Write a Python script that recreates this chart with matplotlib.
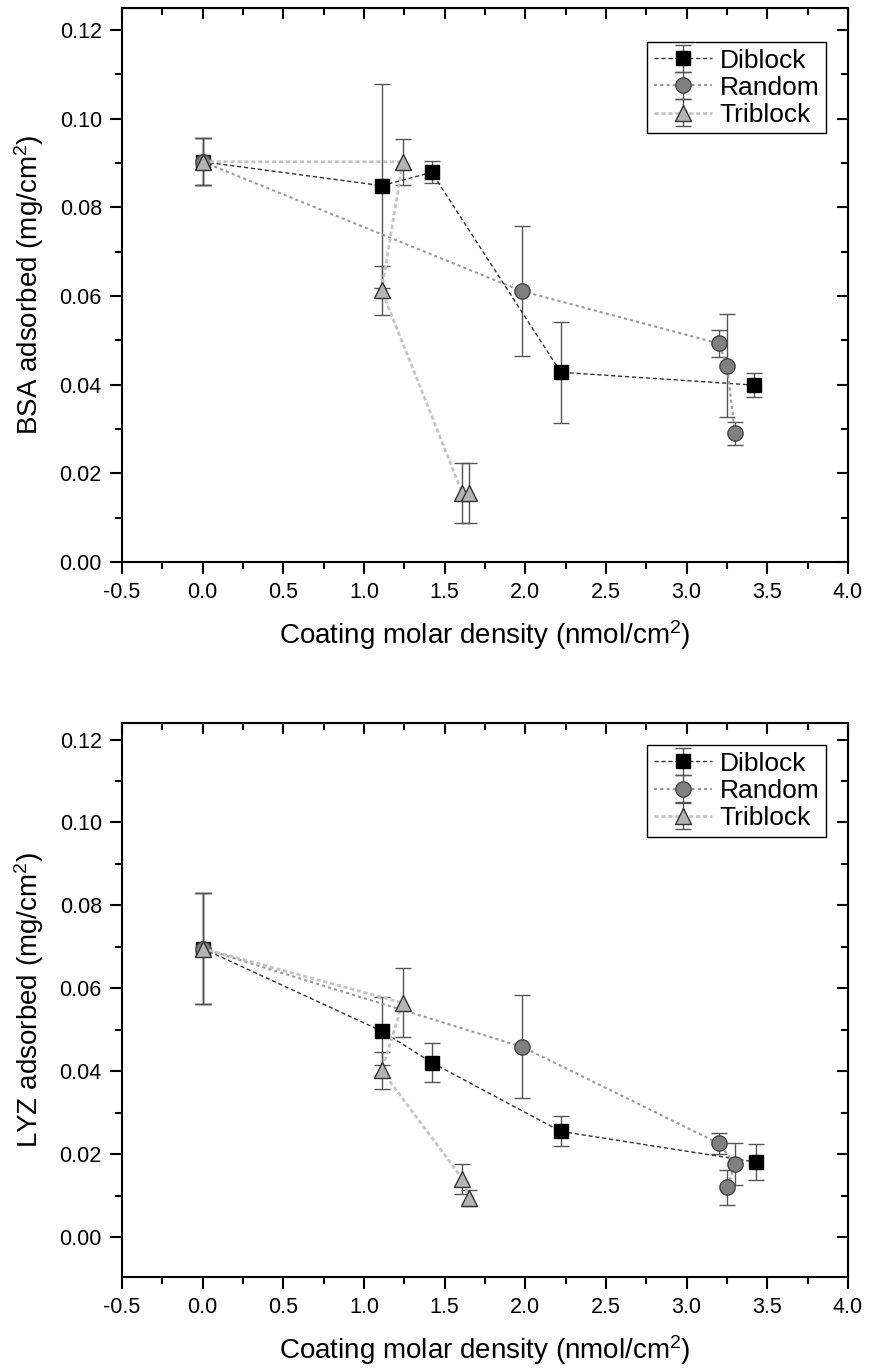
import numpy as np
import matplotlib.pyplot as plt
from matplotlib.ticker import MultipleLocator

plt.rcParams['font.family'] = ['Liberation Sans', 'DejaVu Sans']
plt.rcParams['mathtext.default'] = 'regular'

# BSA (top)
bsa_di_x = [0.0, 1.11, 1.42, 2.22, 3.42]
bsa_di_y = [0.0903, 0.0849, 0.0879, 0.0428, 0.0399]
bsa_di_e = [0.0053, 0.0230, 0.0025, 0.0114, 0.0027]

bsa_ra_x = [0.0, 1.98, 3.20, 3.25, 3.30]
bsa_ra_y = [0.0903, 0.0611, 0.0493, 0.0443, 0.0290]
bsa_ra_e = [0.0053, 0.0147, 0.0030, 0.0116, 0.0025]

bsa_tri_x = [0.0, 1.24, 1.11, 1.61, 1.65]
bsa_tri_y = [0.0903, 0.0903, 0.0613, 0.0155, 0.0155]
bsa_tri_e = [0.0053, 0.0052, 0.0055, 0.0068, 0.0068]

# LYZ (bottom)
lyz_di_x = [0.0, 1.11, 1.42, 2.22, 3.43]
lyz_di_y = [0.0696, 0.0497, 0.0421, 0.0255, 0.0181]
lyz_di_e = [0.0134, 0.0082, 0.0048, 0.0036, 0.0043]

lyz_ra_x = [0.0, 1.98, 3.20, 3.30, 3.25]
lyz_ra_y = [0.0696, 0.0459, 0.0226, 0.0176, 0.0120]
lyz_ra_e = [0.0134, 0.0124, 0.0025, 0.0050, 0.0043]

lyz_tri_x = [0.0, 1.24, 1.11, 1.61, 1.65]
lyz_tri_y = [0.0696, 0.0565, 0.0402, 0.0141, 0.0094]
lyz_tri_e = [0.0134, 0.0083, 0.0045, 0.0036, 0.0020]

labels = ['Diblock', 'Random', 'Triblock']

fig = plt.figure(figsize=(8.69, 13.70), dpi=100)
ax1 = fig.add_axes([0.1404, 0.5898, 0.8354, 0.4044])
ax2 = fig.add_axes([0.1404, 0.0679, 0.8354, 0.4044])


def draw(ax, data, ylim, ylabel, leg_y):
    styles = [
        dict(marker='s', mfc='black', mec='black', ms=10, color='#333333',
             ls=(0, (3, 2)), lw=1.0),
        dict(marker='o', mfc='#808080', mec='#444444', ms=11, color='#9a9a9a',
             ls=(0, (1.5, 1.5)), lw=1.5),
        dict(marker='^', mfc='#b4b4b4', mec='#333333', ms=12, color='#c4c4c4',
             ls=(0, (1.5, 1.0)), lw=2.0),
    ]
    for (x, y, e), st, lab in zip(data, styles, labels):
        ax.errorbar(x, y, yerr=e, ecolor='#555555', elinewidth=1.0,
                    capsize=6, capthick=1.0, label=lab, **st)

    ax.set_xlim(-0.5, 4.0)
    ax.set_ylim(*ylim)
    ax.xaxis.set_major_locator(MultipleLocator(0.5))
    ax.xaxis.set_minor_locator(MultipleLocator(0.25))
    ax.yaxis.set_major_locator(MultipleLocator(0.02))
    ax.yaxis.set_minor_locator(MultipleLocator(0.01))
    ax.xaxis.set_major_formatter(plt.FormatStrFormatter('%.1f'))
    ax.yaxis.set_major_formatter(plt.FormatStrFormatter('%.2f'))
    ax.tick_params(which='both', direction='out', width=1.5, labelsize=15.5,
                   colors='black')
    ax.tick_params(which='major', length=8.5, pad=6)
    ax.tick_params(which='minor', length=5)
    for s in ax.spines.values():
        s.set_linewidth(1.5)

    # top / right ticks pointing inward
    top = ax.secondary_xaxis('top')
    top.xaxis.set_major_locator(MultipleLocator(0.5))
    top.xaxis.set_minor_locator(MultipleLocator(0.25))
    top.tick_params(which='both', direction='in', width=1.5, labeltop=False)
    top.tick_params(which='major', length=8)
    top.tick_params(which='minor', length=5)
    right = ax.secondary_yaxis('right')
    right.yaxis.set_major_locator(MultipleLocator(0.02))
    right.yaxis.set_minor_locator(MultipleLocator(0.01))
    right.tick_params(which='both', direction='in', width=1.5, labelright=False)
    right.tick_params(which='major', length=8)
    right.tick_params(which='minor', length=5)

    ax.set_xlabel('Coating molar density (nmol/cm$^2$)', fontsize=20, labelpad=11)
    ax.set_ylabel(ylabel, fontsize=20, labelpad=10)

    leg = ax.legend(loc='upper right', bbox_to_anchor=(0.970, leg_y),
                    borderaxespad=0, fontsize=19, fancybox=False,
                    edgecolor='black', handlelength=2.2, handletextpad=0.3,
                    borderpad=0.25, labelspacing=0.12, framealpha=1)
    leg.get_frame().set_linewidth(1.0)


draw(ax1,
     [(bsa_di_x, bsa_di_y, bsa_di_e),
      (bsa_ra_x, bsa_ra_y, bsa_ra_e),
      (bsa_tri_x, bsa_tri_y, bsa_tri_e)],
     (0.0, 0.125), 'BSA adsorbed (mg/cm$^2$)', 0.9386)

draw(ax2,
     [(lyz_di_x, lyz_di_y, lyz_di_e),
      (lyz_ra_x, lyz_ra_y, lyz_ra_e),
      (lyz_tri_x, lyz_tri_y, lyz_tri_e)],
     (-0.0096, 0.124), 'LYZ adsorbed (mg/cm$^2$)', 0.960)

fig.savefig('out.png', dpi=100)
